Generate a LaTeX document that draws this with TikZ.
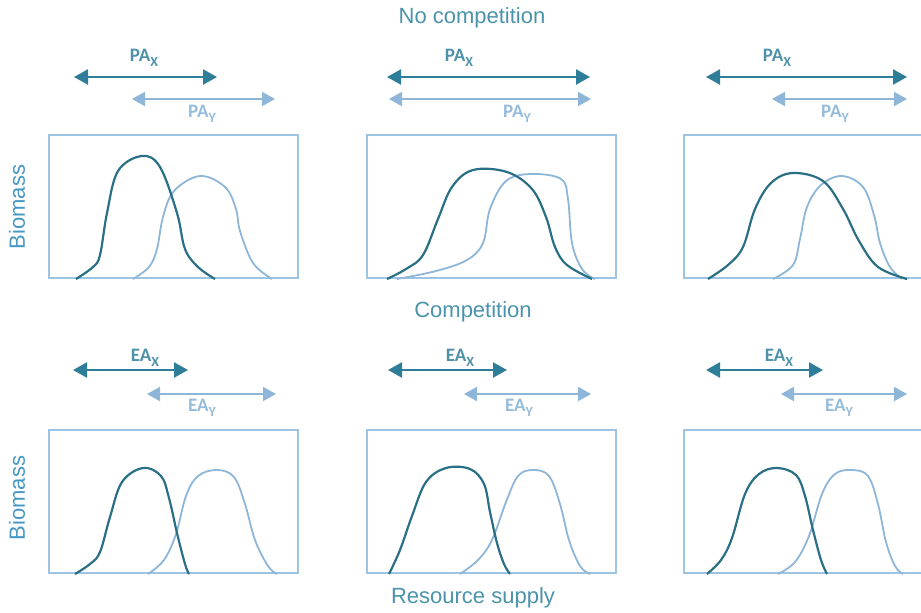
\documentclass[tikz,border=0pt]{standalone}
\usepackage{fontspec}
\setmainfont{Liberation Sans}
\newfontfamily\lblfont{Carlito}
\usetikzlibrary{arrows.meta}
\usetikzlibrary{positioning}
\definecolor{darkteal}{HTML}{2F7E99}
\definecolor{curveteal}{HTML}{2B6F86}
\definecolor{paleblue}{HTML}{8DB6D8}
\definecolor{palelabel}{HTML}{96BCDB}
\definecolor{boxblue}{HTML}{9DC4E2}
\definecolor{titleteal}{HTML}{4A93AB}
\definecolor{axisblue}{HTML}{4598C4}
\newcommand{\rangesub}[1]{\raisebox{-0.5ex}{\fontsize{14}{14}\selectfont #1}}
\tikzset{
	panel/.style={
		rectangle,
		draw=boxblue, line width=2pt,
		minimum width=249pt,
		minimum height=143pt,
		anchor=south west,
		inner sep=0pt},
	darkrange/.style={draw=darkteal, line width=2.4pt,
		{Triangle[length=14pt,width=15pt]}-{Triangle[length=14pt,width=15pt]}},
	lightrange/.style={draw=paleblue, line width=2pt,
		{Triangle[length=13pt,width=14pt]}-{Triangle[length=13pt,width=14pt]}},
	darklbl/.style={font=\lblfont\bfseries\fontsize{19}{19}\selectfont, text=darkteal!85!white},
	lightlbl/.style={font=\lblfont\bfseries\fontsize{19}{19}\selectfont, text=palelabel},
	darkcurve/.style={draw=curveteal, line width=2.2pt, line join=round},
	lightcurve/.style={draw=paleblue, line width=1.8pt, line join=round},
	heading/.style={font=\fontsize{22}{22}\selectfont, text=titleteal},
	axislbl/.style={font=\fontsize{22}{22}\selectfont, text=axisblue, rotate=90},
}
\begin{document}
\begin{tikzpicture}[x=1pt, y=-1pt]
	\useasboundingbox (0,0) rectangle (921,613);
	\clip (0,0) rectangle (921,613);
	% headings
	\node[heading] (nocomp) at (472,18) {No competition};
	\node[heading] (comp) at (473,312) {Competition};
	\node[heading] (supply) at (473,598) {Resource supply};
	\node[axislbl] (bio1) at (17,207) {Biomass};
	\node[axislbl] (bio2) at (17,498) {Biomass};
	% no competition, panel 1
	\begin{scope}[shift={(48,279)}, yscale=-1]
		\node[panel] (top1) at (0,0) {};
		\coordinate (tx1a) at (26,202); \coordinate (tx1b) at (169,202);
		\coordinate (ty1a) at (84,180); \coordinate (ty1b) at (227,180);
		\draw[darkrange] (tx1a) -- (tx1b);
		\draw[lightrange] (ty1a) -- (ty1b);
		\node[darklbl] (pax1) at (96,221) {PA\rangesub{X}};
		\node[lightlbl] (pay1) at (154,165) {PA\rangesub{Y}};
		\draw[lightcurve] plot[smooth, tension=0.6] coordinates
			{(85,0) (101,12) (109,30) (115,62) (126,88) (152,103) (177,92) (188,70) (192,48) (205,16) (224,0)};
		\draw[darkcurve] plot[smooth, tension=0.6] coordinates
			{(28,0) (45,12) (52,24) (59,66) (70,108) (94,123) (112,112) (129,66) (137,30) (150,12) (167,0)};
	\end{scope}
	% no competition, panel 2
	\begin{scope}[shift={(366,279)}, yscale=-1]
		\node[panel] (top2) at (0,0) {};
		\coordinate (tx2a) at (21,202); \coordinate (tx2b) at (224,202);
		\coordinate (ty2a) at (23,180); \coordinate (ty2b) at (225,180);
		\draw[darkrange] (tx2a) -- (tx2b);
		\draw[lightrange] (ty2a) -- (ty2b);
		\node[darklbl] (pax2) at (93,221) {PA\rangesub{X}};
		\node[lightlbl] (pay2) at (151,165) {PA\rangesub{Y}};
		\draw[lightcurve] plot[smooth, tension=0.6] coordinates
			{(31,0) (70,8) (101,19) (117,36) (124,70) (140,98) (165,105) (195,100) (202,80) (206,36) (216,10) (229,0)};
		\draw[darkcurve] plot[smooth, tension=0.6] coordinates
			{(21,0) (40,10) (57,24) (72,60) (86,92) (107,109) (141,107) (166,90) (180,62) (189,32) (201,14) (226,0)};
	\end{scope}
	% no competition, panel 3
	\begin{scope}[shift={(683,279)}, yscale=-1]
		\node[panel] (top3) at (0,0) {};
		\coordinate (tx3a) at (23,202); \coordinate (tx3b) at (224,202);
		\coordinate (ty3a) at (89,180); \coordinate (ty3b) at (224,180);
		\draw[darkrange] (tx3a) -- (tx3b);
		\draw[lightrange] (ty3a) -- (ty3b);
		\node[darklbl] (pax3) at (94,221) {PA\rangesub{X}};
		\node[lightlbl] (pay3) at (152,165) {PA\rangesub{Y}};
		\draw[lightcurve] plot[smooth, tension=0.6] coordinates
			{(90,0) (110,14) (117,40) (124,72) (138,94) (159,103) (180,92) (191,64) (197,36) (207,12) (219,0)};
		\draw[darkcurve] plot[smooth, tension=0.6] coordinates
			{(25,0) (45,14) (60,32) (72,70) (88,96) (110,106) (140,98) (160,70) (176,38) (195,12) (224,0)};
	\end{scope}
	% competition, panel 1
	\begin{scope}[shift={(48,574)}, yscale=-1]
		\node[panel] (bot1) at (0,0) {};
		\coordinate (bx1a) at (25,204); \coordinate (bx1b) at (140,204);
		\coordinate (by1a) at (99,180); \coordinate (by1b) at (228,180);
		\draw[darkrange] (bx1a) -- (bx1b);
		\draw[lightrange] (by1a) -- (by1b);
		\node[darklbl] (eax1) at (97,216) {EA\rangesub{X}};
		\node[lightlbl] (eay1) at (154,166) {EA\rangesub{Y}};
		\draw[lightcurve] plot[smooth, tension=0.6] coordinates
			{(100,0) (116,14) (128,40) (138,78) (150,98) (169,104) (186,97) (197,70) (207,34) (220,8) (229,0)};
		\draw[darkcurve] plot[smooth, tension=0.6] coordinates
			{(27,0) (42,10) (52,22) (62,57) (74,92) (95,106) (113,98) (121,76) (129,41) (137,10) (141,0)};
	\end{scope}
	% competition, panel 2
	\begin{scope}[shift={(366,574)}, yscale=-1]
		\node[panel] (bot2) at (0,0) {};
		\coordinate (bx2a) at (22,204); \coordinate (bx2b) at (141,204);
		\coordinate (by2a) at (98,180); \coordinate (by2b) at (225,180);
		\draw[darkrange] (bx2a) -- (bx2b);
		\draw[lightrange] (by2a) -- (by2b);
		\node[darklbl] (eax2) at (94,216) {EA\rangesub{X}};
		\node[lightlbl] (eay2) at (153,166) {EA\rangesub{Y}};
		\draw[lightcurve] plot[smooth, tension=0.6] coordinates
			{(94,0) (112,14) (126,34) (140,72) (152,98) (167,104) (183,98) (194,70) (203,34) (214,8) (224,0)};
		\draw[darkcurve] plot[smooth, tension=0.6] coordinates
			{(23,0) (34,24) (46,58) (60,92) (80,106) (104,105) (118,90) (124,62) (131,31) (138,10) (144,0)};
	\end{scope}
	% competition, panel 3
	\begin{scope}[shift={(683,574)}, yscale=-1]
		\node[panel] (bot3) at (0,0) {};
		\coordinate (bx3a) at (23,204); \coordinate (bx3b) at (140,204);
		\coordinate (by3a) at (98,180); \coordinate (by3b) at (224,180);
		\draw[darkrange] (bx3a) -- (bx3b);
		\draw[lightrange] (by3a) -- (by3b);
		\node[darklbl] (eax3) at (96,216) {EA\rangesub{X}};
		\node[lightlbl] (eay3) at (156,166) {EA\rangesub{Y}};
		\draw[lightcurve] plot[smooth, tension=0.6] coordinates
			{(95,0) (112,12) (126,38) (139,80) (152,100) (169,104) (185,98) (195,70) (203,32) (212,8) (220,0)};
		\draw[darkcurve] plot[smooth, tension=0.6] coordinates
			{(24,0) (38,14) (49,36) (62,80) (76,100) (94,106) (113,99) (122,78) (130,44) (138,14) (144,0)};
	\end{scope}
\end{tikzpicture}
\end{document}
